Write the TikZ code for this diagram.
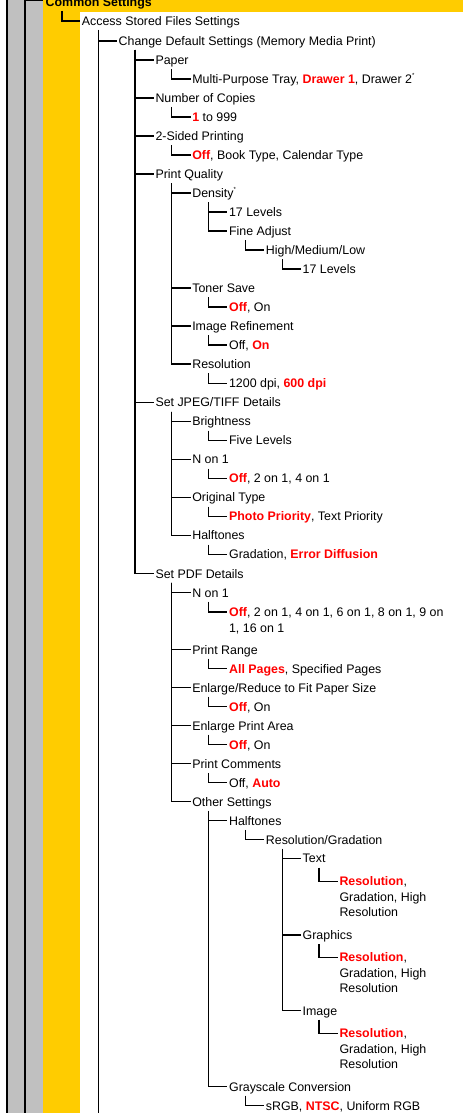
\documentclass[tikz,border=0pt]{standalone}
\usepackage{fontspec}
\setmainfont{Liberation Sans}
\definecolor{hlred}{RGB}{255,0,0}
\definecolor{sidegray}{RGB}{192,192,192}
\definecolor{csyellow}{RGB}{255,204,0}
\newcommand\rv[1]{\textbf{\textcolor{hlred}{#1}}}
\newcommand\supast{\raisebox{5.5pt}{\fontsize{6}{6}\selectfont *}}
\newcommand\conn[2]{\draw[tree] ([xshift=16.5pt,yshift=-9pt]#1.west) |- ([xshift=-1.5pt]#2.west);}
\begin{document}
\begin{tikzpicture}[x=1pt,y=-1pt,
  lbl/.style={anchor=west,inner sep=0pt,text height=8.9pt,text depth=0pt,font=\fontsize{12.4}{14}\selectfont},
  tree/.style={line width=1.2pt},
  barline/.style={line width=2pt}]
\useasboundingbox (0,0) rectangle (463,1113);
\clip (0,0) rectangle (463,1113);
\fill[white] (0,0) rectangle (463,1113);
% side bands
\fill[sidegray] (7,0) rectangle (43,1113);
\fill[csyellow] (43,0) rectangle (80,1113);
\fill[csyellow] (43,0) rectangle (463,12);
\coordinate (bot) at (0,1113);
\coordinate (c0top) at (25,0);
\coordinate (cm1top) at (7,0);
\draw[barline] (cm1top) -- (cm1top |- bot);
\draw[barline] (c0top) -- (c0top |- bot);

% nodes
\node[lbl] (cs) at (45.5,2) {\bfseries Common Settings};
\node[lbl] (acc) at (81.7,21) {Access Stored Files Settings};
\node[lbl] (chg) at (118.5,41) {Change Default Settings (Memory Media Print)};
\node[lbl] (paper) at (155.3,60) {Paper};
\node[lbl] (paperv) at (192.1,79) {Multi-Purpose Tray, \rv{Drawer 1}, Drawer 2\supast};
\node[lbl] (copies) at (155.3,98) {Number of Copies};
\node[lbl] (copiesv) at (192.1,117) {\rv{1} to 999};
\node[lbl] (sided) at (155.3,136) {2-Sided Printing};
\node[lbl] (sidedv) at (192.1,155) {\rv{Off}, Book Type, Calendar Type};
\node[lbl] (pq) at (155.3,174) {Print Quality};
\node[lbl] (dens) at (192.1,193) {Density\supast};
\node[lbl] (dlev) at (228.9,212) {17 Levels};
\node[lbl] (fine) at (228.9,231) {Fine Adjust};
\node[lbl] (hml) at (265.7,250) {High/Medium/Low};
\node[lbl] (hmlv) at (302.5,269) {17 Levels};
\node[lbl] (toner) at (192.1,288) {Toner Save};
\node[lbl] (tonerv) at (228.9,307) {\rv{Off}, On};
\node[lbl] (imgref) at (192.1,326) {Image Refinement};
\node[lbl] (imgrefv) at (228.9,345) {Off, \rv{On}};
\node[lbl] (res) at (192.1,364) {Resolution};
\node[lbl] (resv) at (228.9,383.5) {1200 dpi, \rv{600 dpi}};
\node[lbl] (jpeg) at (155.3,402.5) {Set JPEG/TIFF Details};
\node[lbl] (bright) at (192.1,421.5) {Brightness};
\node[lbl] (brightv) at (228.9,440.5) {Five Levels};
\node[lbl] (jn) at (192.1,459.5) {N on 1};
\node[lbl] (jnv) at (228.9,478.5) {\rv{Off}, 2 on 1, 4 on 1};
\node[lbl] (orig) at (192.1,497.5) {Original Type};
\node[lbl] (origv) at (228.9,516.5) {\rv{Photo Priority}, Text Priority};
\node[lbl] (jhalf) at (192.1,535.5) {Halftones};
\node[lbl] (jhalfv) at (228.9,554.5) {Gradation, \rv{Error Diffusion}};
\node[lbl] (pdf) at (155.3,573.7) {Set PDF Details};
\node[lbl] (pn) at (192.1,592.7) {N on 1};
\node[lbl] (pnv) at (228.9,612) {\rv{Off}, 2 on 1, 4 on 1, 6 on 1, 8 on 1, 9 on};
\node[lbl] (pnv2) at (228.9,627.8) {1, 16 on 1};
\node[lbl] (prange) at (192.1,649.7) {Print Range};
\node[lbl] (prangev) at (228.9,668.7) {\rv{All Pages}, Specified Pages};
\node[lbl] (fit) at (192.1,687.7) {Enlarge/Reduce to Fit Paper Size};
\node[lbl] (fitv) at (228.9,706.7) {\rv{Off}, On};
\node[lbl] (area) at (192.1,725.7) {Enlarge Print Area};
\node[lbl] (areav) at (228.9,744.8) {\rv{Off}, On};
\node[lbl] (comm) at (192.1,763.8) {Print Comments};
\node[lbl] (commv) at (228.9,782.8) {Off, \rv{Auto}};
\node[lbl] (other) at (192.1,801.8) {Other Settings};
\node[lbl] (ohalf) at (228.9,820.8) {Halftones};
\node[lbl] (resgrad) at (265.7,839.8) {Resolution/Gradation};
\node[lbl] (text) at (302.5,858.5) {Text};
\node[lbl] (textv) at (339.3,881.5) {\rv{Resolution},};
\node[lbl] (textv2) at (339.3,896.8) {Gradation, High};
\node[lbl] (textv3) at (339.3,912.3) {Resolution};
\node[lbl] (graph) at (302.5,935) {Graphics};
\node[lbl] (graphv) at (339.3,957.5) {\rv{Resolution},};
\node[lbl] (graphv2) at (339.3,973) {Gradation, High};
\node[lbl] (graphv3) at (339.3,988.5) {Resolution};
\node[lbl] (image) at (302.5,1010.7) {Image};
\node[lbl] (imagev) at (339.3,1033.5) {\rv{Resolution},};
\node[lbl] (imagev2) at (339.3,1049) {Gradation, High};
\node[lbl] (imagev3) at (339.3,1064.3) {Resolution};
\node[lbl] (gray) at (228.9,1086.7) {Grayscale Conversion};
\node[lbl] (grayv) at (265.7,1105.7) {sRGB, \rv{NTSC}, Uniform RGB};

% connectors
\draw[tree] (c0top) |- ([xshift=-2.5pt,yshift=1.3pt]cs.west);
\conn{cs}{acc}
\conn{acc}{chg}
\draw[tree] ([xshift=16.5pt,yshift=-9pt]acc.west) -- ([xshift=16.5pt]acc.west |- bot);
\conn{chg}{paper}\conn{chg}{copies}\conn{chg}{sided}\conn{chg}{pq}\conn{chg}{jpeg}\conn{chg}{pdf}
\conn{paper}{paperv}\conn{copies}{copiesv}\conn{sided}{sidedv}
\conn{pq}{dens}\conn{pq}{toner}\conn{pq}{imgref}\conn{pq}{res}
\conn{dens}{dlev}\conn{dens}{fine}\conn{fine}{hml}\conn{hml}{hmlv}
\conn{toner}{tonerv}\conn{imgref}{imgrefv}\conn{res}{resv}
\conn{jpeg}{bright}\conn{jpeg}{jn}\conn{jpeg}{orig}\conn{jpeg}{jhalf}
\conn{bright}{brightv}\conn{jn}{jnv}\conn{orig}{origv}\conn{jhalf}{jhalfv}
\conn{pdf}{pn}\conn{pdf}{prange}\conn{pdf}{fit}\conn{pdf}{area}\conn{pdf}{comm}\conn{pdf}{other}
\conn{pn}{pnv}\conn{prange}{prangev}\conn{fit}{fitv}\conn{area}{areav}\conn{comm}{commv}
\conn{other}{ohalf}\conn{other}{gray}
\conn{ohalf}{resgrad}
\conn{resgrad}{text}\conn{resgrad}{graph}\conn{resgrad}{image}
\conn{text}{textv}\conn{graph}{graphv}\conn{image}{imagev}
\conn{gray}{grayv}
\end{tikzpicture}
\end{document}
